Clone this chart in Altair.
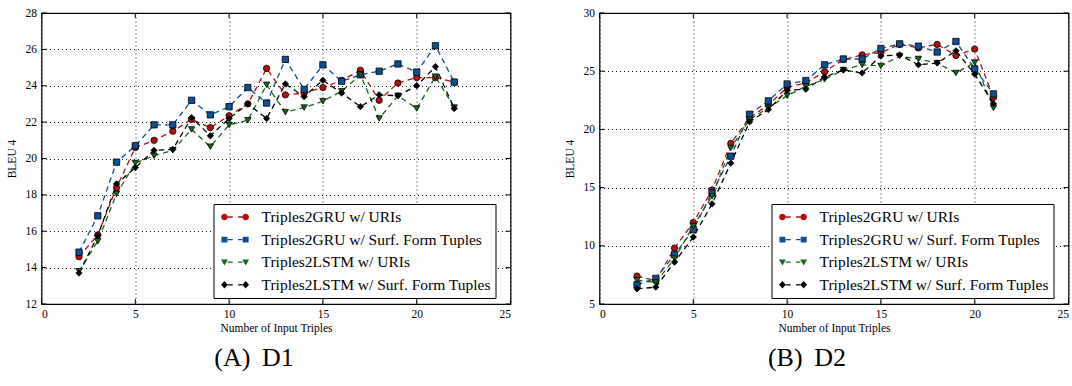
import altair as alt
import pandas as pd

# ---------------- data ----------------
names = ["Triples2GRU w/ URIs", "Triples2GRU w/ Surf. Form Tuples",
         "Triples2LSTM w/ URIs", "Triples2LSTM w/ Surf. Form Tuples"]
colors = ["#b30f0f", "#0b4f95", "#16691a", "#000000"]
shapes = ["circle", "square", "triangle-down", "diamond"]
sizes = [40, 40, 42, 52]

x_d1 = list(range(2, 23))
gru_uri_d1 = [14.6, 15.8, 18.4, 20.6, 21.0, 21.5, 22.15, 21.7, 22.35, 23.0, 24.95,
              23.5, 23.6, 23.9, 24.3, 24.85, 23.2, 24.15, 24.45, 24.45, 24.2]
gru_sft_d1 = [14.85, 16.85, 19.8, 20.7, 21.85, 21.85, 23.2, 22.4, 22.85, 23.9, 23.05,
              25.45, 23.8, 25.15, 24.25, 24.6, 24.8, 25.2, 24.75, 26.2, 24.2]
lstm_uri_d1 = [13.8, 15.45, 18.05, 19.75, 20.15, 20.45, 21.6, 20.65, 21.85, 22.1, 24.05,
               22.55, 22.8, 23.15, 23.7, 24.6, 22.2, 23.45, 22.75, 24.5, 22.8]
lstm_sft_d1 = [13.7, 15.75, 18.6, 19.5, 20.45, 20.5, 22.25, 21.25, 22.2, 23.0, 22.2,
               24.1, 23.4, 24.3, 23.6, 22.85, 23.5, 23.45, 24.0, 25.05, 22.75]

x_d2 = list(range(2, 22))
gru_uri_d2 = [7.4, 7.0, 9.8, 12.0, 14.8, 18.8, 21.0, 22.1, 23.6, 24.0, 24.95, 26.0,
              26.4, 26.6, 27.3, 27.0, 27.3, 26.35, 26.9, 22.75]
gru_sft_d2 = [6.65, 7.2, 9.25, 11.4, 14.55, 17.7, 21.3, 22.45, 23.9, 24.2, 25.55, 26.05,
              26.05, 26.95, 27.35, 27.15, 26.65, 27.55, 25.2, 23.05]
lstm_uri_d2 = [7.05, 6.85, 8.9, 11.7, 14.25, 18.4, 20.85, 21.85, 22.9, 23.7, 24.3, 25.1,
               25.55, 25.45, 26.3, 26.05, 25.7, 24.85, 25.75, 21.85]
lstm_sft_d2 = [6.3, 6.45, 8.6, 10.75, 13.6, 17.1, 20.65, 21.7, 23.35, 23.45, 24.5, 25.1,
               24.85, 26.3, 26.4, 25.55, 25.7, 26.75, 24.75, 22.2]

x_ticks = [0, 5, 10, 15, 20, 25]
y_ticks_d1 = [12, 14, 16, 18, 20, 22, 24, 26, 28]
y_ticks_d2 = [5, 10, 15, 20, 25, 30]

FONT = "Liberation Serif"
W, H = 469, 291

# legend symbols: marker - dash  gap  dash - marker  (custom paths)
dash = "M0.14,-0.072 H0.69 V0.072 H0.14 Z M1.29,-0.072 H1.76 V0.072 H1.29 Z"
leg_paths = [
    "M-0.6,0 A0.37,0.37 0 1,0 0.14,0 A0.37,0.37 0 1,0 -0.6,0 Z "
    "M1.76,0 A0.37,0.37 0 1,0 2.5,0 A0.37,0.37 0 1,0 1.76,0 Z " + dash,
    "M-0.56,-0.33 H0.1 V0.33 H-0.56 Z M1.8,-0.33 H2.46 V0.33 H1.8 Z " + dash,
    "M-0.62,-0.3 H0.16 L-0.23,0.36 Z M1.74,-0.3 H2.52 L2.13,0.36 Z " + dash,
    "M-0.23,-0.42 L0.14,0 L-0.23,0.42 L-0.6,0 Z M2.13,-0.42 L2.5,0 L2.13,0.42 L1.76,0 Z " + dash,
]


def long_df(xs, series):
    rows = []
    for k, (nm, vals) in enumerate(zip(names, series)):
        for x, v in zip(xs, vals):
            rows.append({"x": x, "v": v, "series": nm, "k": k})
    return pd.DataFrame(rows)


def panel(xs, series, ydom, yticks, caption, cap_dx):
    df = long_df(xs, series)
    xsc = alt.Scale(domain=[0, 25], nice=False)
    ysc = alt.Scale(domain=ydom, nice=False, zero=False)
    common = dict(grid=True, gridDash=[1, 3], gridColor="black", gridOpacity=0.9,
                  ticks=False, domain=False, labelFont=FONT, labelFontSize=11.5,
                  labelColor="black", titleFont=FONT, titleFontSize=11.5,
                  titleFontWeight="normal", titleColor="black", format="d")
    xax = alt.Axis(values=x_ticks, title="Number of Input Triples",
                   labelPadding=4, titlePadding=3, **common)
    yax = alt.Axis(values=yticks, title="BLEU 4", labelPadding=5,
                   titlePadding=8, **common)
    X = alt.X("x:Q", scale=xsc, axis=xax)
    Y = alt.Y("v:Q", scale=ysc, axis=yax)

    def cscale():
        return alt.Scale(domain=names, range=colors)

    base = alt.Chart(df)
    lines = base.mark_line(strokeDash=[5.5, 4], strokeWidth=1.3).encode(
        x=X, y=Y,
        color=alt.Color("series:N", scale=cscale(), legend=None),
        order="x:Q",
    )
    points = base.mark_point(filled=True, opacity=1).encode(
        x=X, y=Y,
        color=alt.Color("series:N", scale=cscale(), legend=None),
        shape=alt.Shape("series:N", scale=alt.Scale(domain=names, range=shapes), legend=None),
        size=alt.Size("series:N", scale=alt.Scale(domain=names, range=sizes), legend=None),
        stroke=alt.value("black"),
        strokeWidth=alt.value(0.8),
        order="k:Q",
    )
    leg = alt.Legend(title=None, orient="none", legendX=172, legendY=191,
                     strokeColor="black", fillColor="white", padding=4,
                     labelFont=FONT, labelFontSize=15.5, labelColor="black",
                     symbolSize=324, symbolStrokeWidth=0, symbolOpacity=1,
                     labelOffset=26, rowPadding=4.6, cornerRadius=0,
                     labelLimit=400)
    legend_layer = base.transform_filter("datum.x < 0").mark_point(
        filled=True, opacity=1, strokeWidth=0).encode(
        x=X, y=Y,
        color=alt.Color("series:N", scale=cscale(), legend=leg),
        shape=alt.Shape("series:N", scale=alt.Scale(domain=names, range=leg_paths), legend=leg),
    )

    xt = pd.DataFrame({"t": x_ticks})
    yt = pd.DataFrame({"t": yticks})
    tick_style = dict(color="black", thickness=1, size=5, opacity=1)
    xb = alt.Chart(xt).mark_tick(**tick_style).encode(
        x=alt.X("t:Q", scale=xsc, axis=xax), y=alt.value(H - 2.5))
    xtop = alt.Chart(xt).mark_tick(**tick_style).encode(
        x=alt.X("t:Q", scale=xsc, axis=xax), y=alt.value(2.5))
    yl = alt.Chart(yt).mark_tick(**tick_style).encode(
        y=alt.Y("t:Q", scale=ysc, axis=yax), x=alt.value(2.5))
    yr = alt.Chart(yt).mark_tick(**tick_style).encode(
        y=alt.Y("t:Q", scale=ysc, axis=yax), x=alt.value(W - 2.5))

    return alt.layer(xb, xtop, yl, yr, lines, points, legend_layer).resolve_scale(
        shape="independent", color="independent"
    ).properties(
        width=W, height=H,
        title=alt.TitleParams(caption, orient="bottom", font=FONT, fontSize=26,
                              fontWeight="normal", color="black", offset=11,
                              dx=cap_dx),
    )


left = panel(x_d1, [gru_uri_d1, gru_sft_d1, lstm_uri_d1, lstm_sft_d1],
             [12, 28], y_ticks_d1, "(A)\u2009 D1", -22)
right = panel(x_d2, [gru_uri_d2, gru_sft_d2, lstm_uri_d2, lstm_sft_d2],
              [5, 30], y_ticks_d2, "(B)\u2009 D2", -27)

chart = alt.hconcat(left, right, spacing=50).properties(
    padding={"left": 4.5, "top": 6, "right": 0, "bottom": 0},
    background="white",
).configure_view(stroke="black", strokeWidth=1.2)

chart.save("out.html", embed_options={"renderer": "svg", "actions": False})
